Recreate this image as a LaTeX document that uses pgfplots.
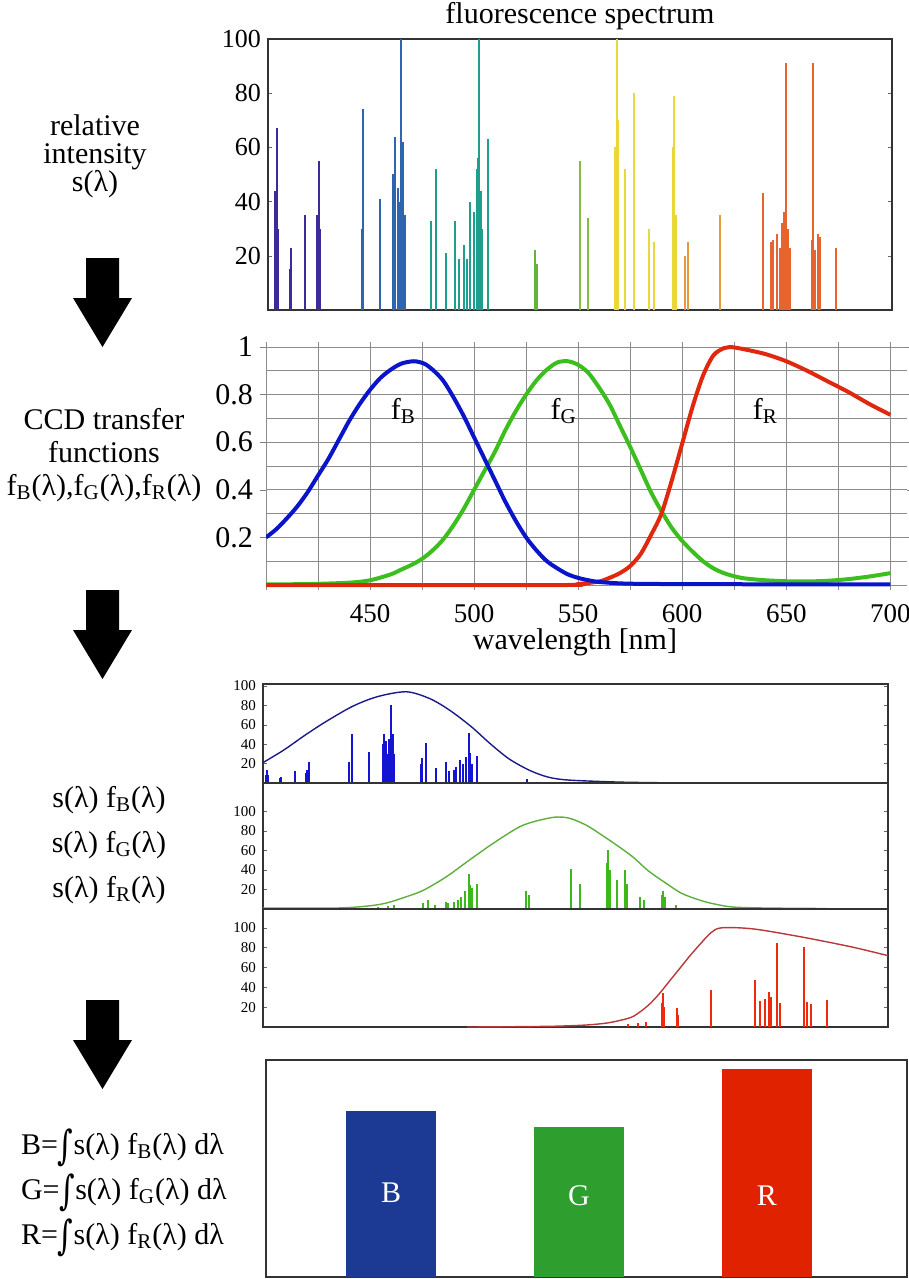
\documentclass[border=0pt]{standalone}
\usepackage{fontspec}
\setmainfont{Liberation Serif}
\newfontfamily\djv{DejaVu Serif}
\usepackage{graphicx}
\usepackage{pgfplots}
\pgfplotsset{compat=1.18}

% spectrum colours
\definecolor{spA}{HTML}{3B2C9A}
\definecolor{spB}{HTML}{2D66AE}
\definecolor{spC}{HTML}{1E9E8C}
\definecolor{spD}{HTML}{62B43A}
\definecolor{spE}{HTML}{86BC44}
\definecolor{spF}{HTML}{E9D83A}
\definecolor{spG}{HTML}{E59A3C}
\definecolor{spH}{HTML}{E8642E}
% transfer functions
\definecolor{cB}{HTML}{0A14C8}
\definecolor{cG}{HTML}{3CBE1E}
\definecolor{cR}{HTML}{E0280F}
% products
\definecolor{pB}{HTML}{1414D2}
\definecolor{pBc}{HTML}{1A1A8A}
\definecolor{pG}{HTML}{3DB81A}
\definecolor{pGc}{HTML}{5DAE3A}
\definecolor{pR}{HTML}{EE2A0A}
\definecolor{pRc}{HTML}{B8383A}
% bars
\definecolor{barB}{HTML}{1C3A94}
\definecolor{barG}{HTML}{2E9E2E}
\definecolor{barR}{HTML}{E02200}

\newcommand\fs[1]{\fontsize{#1}{#1}\selectfont}
\newcommand\sub[1]{\textsubscript{#1}}
\newcommand\integ{\raisebox{-0.18em}{\scalebox{1.0}[1.35]{\djv ∫}}}
\newcommand\bigarrow[1]{\fill (43pt,{-#1pt}) -- (59.5pt,{-#1pt}) -- (59.5pt,{-(#1+20)*1pt})
  -- (66pt,{-(#1+20)*1pt}) -- (51.25pt,{-(#1+44.5)*1pt}) -- (36.5pt,{-(#1+20)*1pt})
  -- (43pt,{-(#1+20)*1pt}) -- cycle;}

\pgfplotsset{
  every axis/.append style={scale only axis, anchor=south west,
    /pgf/number format/assume math mode=true},
  spike/.style={ycomb, line width=1pt, mark=none},
  boxed/.style={axis line style={draw=black!80, line width=0.8pt},
    major tick length=2pt, tick style={black!60}, xtick=\empty},
}

\begin{document}
\begin{tikzpicture}
\path[use as bounding box] (0pt,0pt) rectangle (454.5pt,-639.5pt);

% ---------- fluorescence spectrum ----------
\begin{axis}[boxed, at={(134pt,-155pt)}, width=312pt, height=135.5pt,
  xmin=400, xmax=700, ymin=0, ymax=100,
  ytick={20,40,60,80,100},
  yticklabel style={font=\fs{13}}]
\addplot[spike, color=spA] coordinates {(403.5,44) (404.2,67) (405,30) (410.5,15) (411.2,23) (418,35) (423.5,35) (424.4,55) (425.2,30)};
\addplot[spike, color=spB] coordinates {(445,30) (445.5,74) (454,41) (460,50) (461,64) (462.5,45) (463.5,40) (464,100) (465,62) (466,35)};
\addplot[spike, color=spC] coordinates {(478.5,33) (481,52) (485.6,21) (490,33) (492,19) (494,24) (495.7,19) (497.3,40) (499,36) (500.3,52) (501,56) (501.3,100) (502.2,44) (503,30) (505.6,63)};
\addplot[spike, color=spD] coordinates {(528.6,22) (529.4,17)};
\addplot[spike, color=spE] coordinates {(550,55) (554,34)};
\addplot[spike, color=spF] coordinates {(567,60) (567.6,100) (568.4,70) (571.8,52) (575.8,80) (583,30) (585.6,25) (594.6,60) (595,79) (596,35)};
\addplot[spike, color=spG] coordinates {(600.5,20) (601.8,25) (617.5,35)};
\addplot[spike, color=spH] coordinates {(638,43) (641.8,25) (642.6,26) (644.5,28) (646,23) (647.3,32) (648,36) (649,91) (650,30) (651,23) (661.5,26) (661.9,91) (663,22) (664.5,28) (665.3,27) (673,23)};
\end{axis}
\node[font=\fs{15}] at (290pt,-8pt) {fluorescence spectrum};

% ---------- CCD transfer functions ----------
\begin{axis}[at={(133pt,-294.9pt)}, width=320.5pt, height=123.8pt,
  xmin=400, xmax=708, ymin=-0.02, ymax=1.02,
  xtick={450,500,550,600,650,700}, minor xtick={400,425,...,700},
  ytick={0.2,0.4,0.6,0.8,1}, minor ytick={0,0.1,...,1},
  grid=both,
  major grid style={black!45, line width=0.4pt},
  minor grid style={black!45, line width=0.4pt},
  axis line style={draw=none},
  tick align=outside, major tick length=3pt, minor tick length=0pt,
  tick style={black!50},
  xtick style={draw=none},
  yticklabel style={font=\fs{15}},
  xticklabel style={font=\fs{13.5}, yshift=-1pt}]
\addplot[color=cG, line width=2pt, smooth] coordinates {(400,0.003) (420,0.004) (440,0.01) (450,0.02) (460,0.045) (465,0.065) (470,0.085) (475,0.11) (480,0.145) (485,0.19) (490,0.25) (495,0.32) (500,0.40) (505,0.48) (510,0.56) (515,0.65) (520,0.73) (525,0.80) (530,0.86) (535,0.905) (540,0.935) (545,0.94) (550,0.925) (555,0.89) (560,0.83) (565,0.76) (570,0.67) (575,0.58) (580,0.485) (585,0.39) (590,0.31) (595,0.24) (600,0.185) (605,0.14) (610,0.10) (615,0.07) (620,0.05) (625,0.037) (630,0.028) (640,0.02) (650,0.016) (660,0.015) (670,0.018) (680,0.025) (690,0.036) (700,0.05)};
\addplot[color=cR, line width=2pt, smooth] coordinates {(400,0) (540,0) (550,0.004) (560,0.015) (565,0.03) (570,0.05) (575,0.08) (580,0.13) (585,0.21) (590,0.30) (595,0.44) (600,0.595) (605,0.75) (610,0.88) (615,0.965) (620,0.995) (623,1.0) (630,0.99) (640,0.97) (650,0.94) (660,0.90) (670,0.855) (680,0.81) (690,0.76) (700,0.715)};
\addplot[color=cB, line width=2pt, smooth] coordinates {(400,0.20) (405,0.235) (410,0.28) (415,0.33) (420,0.39) (425,0.46) (430,0.53) (435,0.61) (440,0.69) (445,0.76) (450,0.82) (455,0.87) (460,0.905) (465,0.93) (471,0.94) (476,0.93) (480,0.905) (485,0.86) (490,0.79) (495,0.71) (500,0.62) (505,0.53) (510,0.44) (515,0.35) (520,0.27) (525,0.20) (530,0.145) (535,0.10) (540,0.07) (545,0.045) (550,0.03) (555,0.02) (560,0.013) (570,0.007) (580,0.005) (600,0.004) (650,0.003) (700,0.003)};
\node[font=\fs{15}] at (axis cs:466,0.73) {f\sub{B}};
\node[font=\fs{15}] at (axis cs:543,0.73) {f\sub{G}};
\node[font=\fs{15}] at (axis cs:640,0.73) {f\sub{R}};
\end{axis}
\node[font=\fs{15}] at (287.5pt,-321pt) {wavelength [nm]};

% ---------- products ----------
\begin{axis}[boxed, at={(131.5pt,-391.5pt)}, width=312.5pt, height=49.5pt,
  xmin=400, xmax=700, ymin=0, ymax=102,
  ytick={20,40,60,80,100}, yticklabel style={font=\fs{7.5}}]
\addplot[spike, color=pB] coordinates {(401.5,8) (402,13) (402.5,8) (408.3,5) (408.7,6) (415.5,12) (420.5,10) (421,13.5) (422,22) (441.5,22) (442.8,50) (451,32) (457.8,40) (458.3,50) (459,43) (460,30) (460.5,45) (461.2,80) (462.3,51) (463,30) (476,20) (476.4,26) (478.4,41) (482.8,15) (487.6,22) (489.5,12) (491.5,13) (492.8,17) (494.4,24) (496,20) (497.5,27) (498.7,52) (499.5,31) (500.5,20) (502.7,28) (526.8,4)};
\addplot[color=pBc, line width=0.7pt, smooth] coordinates {(400,21) (410,34) (420,49) (430,63) (443,79) (455,89) (468.8,94) (480,87) (489.6,75) (500,58) (508.8,41) (518,25) (528,13) (537,6) (547,3) (570,1) (590,0.3)};
\end{axis}

\begin{axis}[boxed, at={(131.5pt,-454.5pt)}, width=312.5pt, height=63pt,
  xmin=400, xmax=700, ymin=0, ymax=129,
  ytick={20,40,60,80,100}, yticklabel style={font=\fs{7.5}}]
\addplot[spike, color=pG] coordinates {(455,2) (460,3) (463,4) (477,6) (479,9) (482.5,4) (487.6,7) (489,6) (491.5,7) (493.5,9) (495,12) (497,18) (498.7,36) (499.5,25) (500.5,22) (502.7,26) (526.4,18) (527.5,14) (547.8,41) (552,26) (565.3,47) (565.7,60) (566.5,40) (569.7,30) (573.7,40) (574.5,26) (581,12.5) (583,9) (591.5,14) (592,18) (592.8,12) (598,4)};
\addplot[color=pGc, line width=0.7pt, smooth] coordinates {(400,1) (435,1) (450,3) (459,6) (468,12) (476.8,19) (488,33) (499,50) (511,68) (523,84) (531,90) (540,94) (547,93) (555,86) (561.7,77) (570,65) (577.7,53) (585,39) (593.7,26) (601,16) (609.7,9) (617,5) (625.7,2) (641.7,1) (670.6,0.5)};
\end{axis}

\begin{axis}[boxed, at={(131.5pt,-513.5pt)}, width=312.5pt, height=59pt,
  xmin=400, xmax=700, ymin=0, ymax=119,
  ytick={20,40,60,80,100}, yticklabel style={font=\fs{7.5}}]
\addplot[spike, color=pR] coordinates {(575,3) (580,4) (584,5) (591.5,24) (592,34) (592.5,20) (598.6,19) (599.2,12) (615,37) (636,47) (638.5,26) (641,28) (643,35) (644,30) (646.6,85) (648,24) (659.5,81) (661,25) (663,23) (670.7,27)};
\addplot[color=pRc, line width=0.7pt, smooth] coordinates {(498,0) (520,0.3) (540,0.8) (555,2) (565,4) (572,7) (578,11) (585,22) (590,33) (595,46) (600,59) (605,72) (610,84) (615,95) (620,100) (635,99) (658,91) (682,81) (698,73) (700,72)};
\end{axis}

% ---------- integrated values ----------
\begin{axis}[at={(133pt,-638.5pt)}, width=320.5pt, height=108.5pt,
  xmin=0.335, xmax=3.745, ymin=0, ymax=100,
  xtick=\empty, ytick=\empty,
  axis line style={draw=black!80, line width=0.8pt},
  ybar, bar width=45pt]
\addplot[fill=barB, draw=none, bar shift=0pt] coordinates {(1,76.6)};
\addplot[fill=barG, draw=none, bar shift=0pt] coordinates {(2,69.3)};
\addplot[fill=barR, draw=none, bar shift=0pt] coordinates {(3,95.9)};
\node[font=\fs{15}, text=white] at (axis cs:1,39) {B};
\node[font=\fs{15}, text=white] at (axis cs:2,37.5) {G};
\node[font=\fs{15}, text=white] at (axis cs:3,37.5) {R};
\end{axis}

% ---------- left column ----------
\node[font=\fontsize{15}{14}\selectfont, align=center] at (47.5pt,-78pt) {relative\\intensity\\s(λ)};
\bigarrow{129}
\node[font=\fontsize{15}{16.5}\selectfont, align=center] at (52pt,-227.5pt) {CCD transfer\\functions\\f\sub{B}(λ),f\sub{G}(λ),f\sub{R}(λ)};
\bigarrow{295}
\node[font=\fontsize{15}{22.5}\selectfont, align=center] at (54.5pt,-422.5pt) {s(λ) f\sub{B}(λ)\\s(λ) f\sub{G}(λ)\\s(λ) f\sub{R}(λ)};
\bigarrow{500}
\node[font=\fontsize{15}{22.5}\selectfont, align=left, anchor=west] at (7pt,-596.5pt) {B=\integ s(λ) f\sub{B}(λ) dλ\\G=\integ s(λ) f\sub{G}(λ) dλ\\R=\integ s(λ) f\sub{R}(λ) dλ};
\end{tikzpicture}
\end{document}
